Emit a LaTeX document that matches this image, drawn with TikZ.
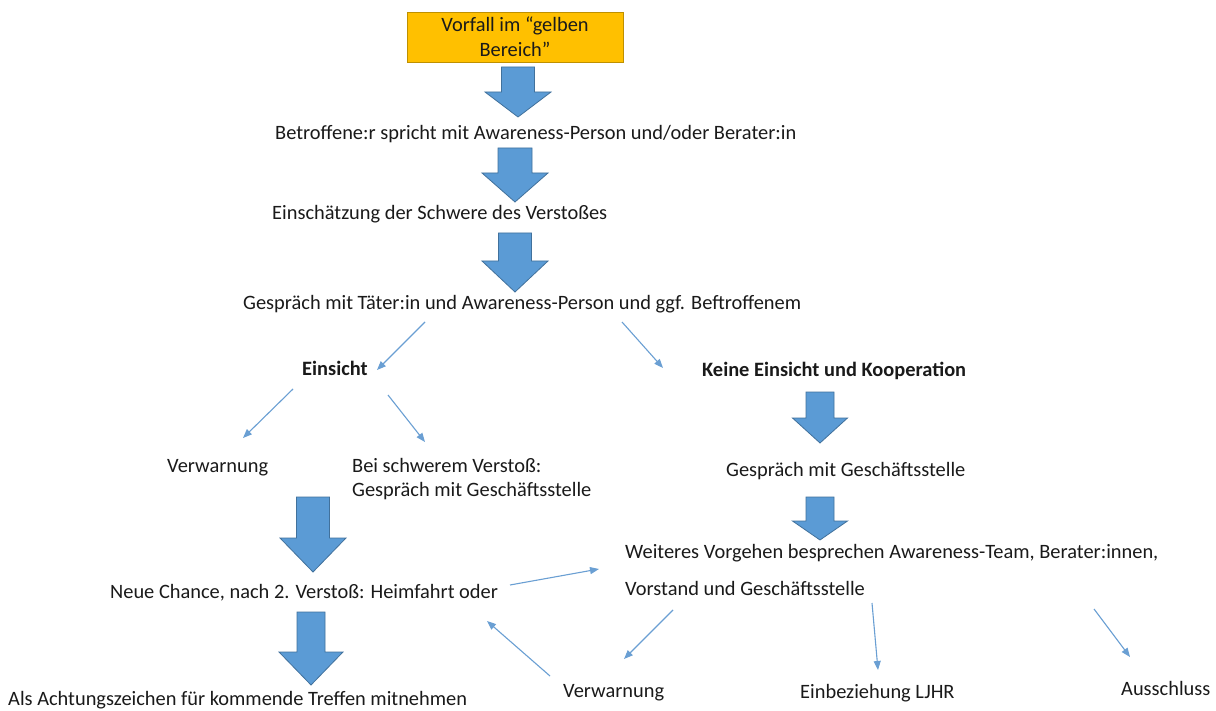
\documentclass[tikz,border=0pt]{standalone}
\usepackage{fontspec}
\setmainfont{Carlito}
\usetikzlibrary{arrows.meta}
\definecolor{blu}{HTML}{5B9BD5}
\definecolor{bluedge}{HTML}{41719C}
\definecolor{thinblu}{HTML}{6A9FD3}
\definecolor{gold}{HTML}{FFC000}
\definecolor{goldedge}{HTML}{BF9000}
\definecolor{ink}{HTML}{1A1A1A}
\newcommand\blockarr[6]{%
  \filldraw[blockstyle] ({#1-#5},#2) -- ({#1+#5},#2) -- ({#1+#5},#3) -- ({#1+#6},#3) -- (#1,#4) -- ({#1-#6},#3) -- ({#1-#5},#3) -- cycle;}
\begin{document}
\begin{tikzpicture}[x=1pt,y=-1pt,
  blockstyle/.style={fill=blu,draw=bluedge,line width=0.8pt},
  txt/.style={font=\fontsize{20.4}{24}\selectfont,text=ink,inner sep=0pt,anchor=west,text height=14pt,text depth=4pt},
  bold/.style={txt,font=\fontsize{20.4}{24}\selectfont\bfseries},
  thinarr/.style={draw=thinblu,line width=1.1pt,-{Triangle[length=9pt,width=7pt]}}]
\useasboundingbox (0,0) rectangle (1216,711);
\fill[white] (0,0) rectangle (1216,711);
\node[draw=goldedge,fill=gold,line width=0.8pt,minimum width=216pt,minimum height=50pt,align=center,text=ink,
  font=\fontsize{20.4}{25}\selectfont,inner sep=0pt] (vorfall) at (515,37) {Vorfall im “gelben\\Bereich”};
\node[txt] (betr) at (275,135) {Betroffene:r spricht mit Awareness-Person und/oder Berater:in};
\node[txt] (einsch) at (272,215) {Einschätzung der Schwere des Verstoßes};
\node[txt] (gespr) at (243,305) {Gespräch mit Täter:in und Awareness-Person und ggf. Beftroffenem};
\node[bold] (ein) at (302,371) {Einsicht};
\node[bold] (keine) at (702,372) {Keine Einsicht und Kooperation};
\node[txt] (verw1) at (167,467) {Verwarnung};
\node[txt] (bei1) at (352,467) {Bei schwerem Verstoß:};
\node[txt] (bei2) at (352,491) {Gespräch mit Geschäftsstelle};
\node[txt] (gesch) at (726,471) {Gespräch mit Geschäftsstelle};
\node[txt] (weit1) at (625,553) {Weiteres Vorgehen besprechen Awareness-Team, Berater:innen,};
\node[txt] (weit2) at (625,590) {Vorstand und Geschäftsstelle};
\node[txt] (neue) at (110,593) {Neue Chance, nach 2. Verstoß: Heimfahrt oder};
\node[txt] (als) at (8,700) {Als Achtungszeichen für kommende Treffen mitnehmen};
\node[txt] (verw2) at (563,692) {Verwarnung};
\node[txt] (ljhr) at (800,693) {Einbeziehung LJHR};
\node[txt] (aus) at (1121,690) {Ausschluss};
% block arrows
\blockarr{518}{67}{92}{117}{16.5}{33}
\blockarr{515}{148}{173}{202}{17}{33}
\blockarr{515}{233}{261}{292}{16.5}{33}
\blockarr{820}{392}{418}{443}{14}{27.5}
\blockarr{820}{497}{521}{540}{14}{27.5}
\blockarr{313}{497}{538}{572}{16.5}{33}
\blockarr{311}{612}{652}{685}{14}{32}
% thin arrows
\draw[thinarr] ([shift={(182,17)}]gespr.west) -- ([shift={(75,-1)}]ein.west);
\draw[thinarr] ([shift={(379,17)}]gespr.west) -- ([shift={(-39,-4)}]keine.west);
\draw[thinarr] ([shift={(-9,18)}]ein.west) -- ([shift={(76,-29)}]verw1.west);
\draw[thinarr] ([shift={(86,24)}]ein.west) -- ([shift={(73,-25)}]bei1.west);
\draw[thinarr] ([shift={(400,-8)}]neue.west) -- ([shift={(-26,16)}]weit1.west);
\draw[thinarr] ([shift={(48,20)}]weit2.west) -- ([shift={(61,-33)}]verw2.west);
\draw[thinarr] ([shift={(-13,-16)}]verw2.west) -- ([shift={(377,28)}]neue.west);
\draw[thinarr] ([shift={(247,13)}]weit2.west) -- ([shift={(78,-23)}]ljhr.west);
\draw[thinarr] ([shift={(469,19)}]weit2.west) -- ([shift={(9,-33)}]aus.west);
\end{tikzpicture}
\end{document}
